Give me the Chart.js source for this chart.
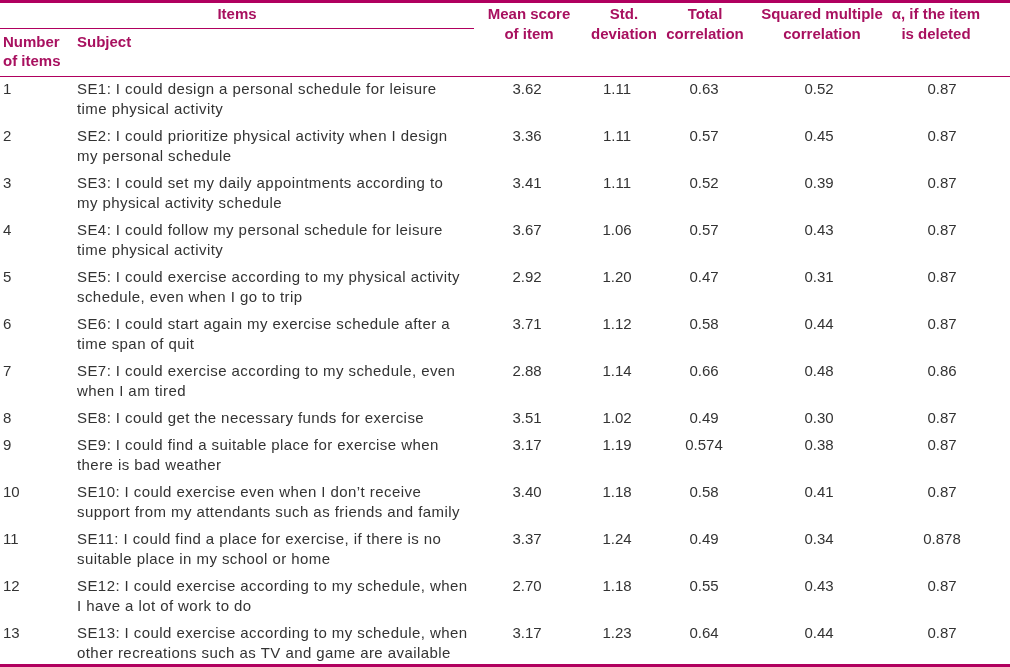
<!doctype html>
<html lang="en">
  <head>
    <meta charset="utf-8">
    <title>Self-efficacy items</title>
    <style>
      body { margin: 0; background: #fff; }
    </style>
  </head>
  <body>
    <canvas id="myChart" width="1010" height="667"></canvas>

    <script src="https://cdn.jsdelivr.net/npm/chart.js"></script>
    <script>
        const itemNumbers = ['1', '2', '3', '4', '5', '6', '7', '8', '9', '10', '11', '12', '13'];
        const subjects = [
            ['SE1: I could design a personal schedule for leisure', 'time physical activity'],
            ['SE2: I could prioritize physical activity when I design', 'my personal schedule'],
            ['SE3: I could set my daily appointments according to', 'my physical activity schedule'],
            ['SE4: I could follow my personal schedule for leisure', 'time physical activity'],
            ['SE5: I could exercise according to my physical activity', 'schedule, even when I go to trip'],
            ['SE6: I could start again my exercise schedule after a', 'time span of quit'],
            ['SE7: I could exercise according to my schedule, even', 'when I am tired'],
            ['SE8: I could get the necessary funds for exercise'],
            ['SE9: I could find a suitable place for exercise when', 'there is bad weather'],
            ['SE10: I could exercise even when I don\u2019t receive', 'support from my attendants such as friends and family'],
            ['SE11: I could find a place for exercise, if there is no', 'suitable place in my school or home'],
            ['SE12: I could exercise according to my schedule, when', 'I have a lot of work to do'],
            ['SE13: I could exercise according to my schedule, when', 'other recreations such as TV and game are available']
        ];
        const meanScore = ['3.62', '3.36', '3.41', '3.67', '2.92', '3.71', '2.88', '3.51', '3.17', '3.40', '3.37', '2.70', '3.17'];
        const stdDeviation = ['1.11', '1.11', '1.11', '1.06', '1.20', '1.12', '1.14', '1.02', '1.19', '1.18', '1.24', '1.18', '1.23'];
        const totalCorrelation = ['0.63', '0.57', '0.52', '0.57', '0.47', '0.58', '0.66', '0.49', '0.574', '0.58', '0.49', '0.55', '0.64'];
        const squaredMultiple = ['0.52', '0.45', '0.39', '0.43', '0.31', '0.44', '0.48', '0.30', '0.38', '0.41', '0.34', '0.43', '0.44'];
        const alphaIfDeleted = ['0.87', '0.87', '0.87', '0.87', '0.87', '0.87', '0.86', '0.87', '0.87', '0.87', '0.878', '0.87', '0.87'];
    </script>

    <script>
        const accent = '#b0005f';
        const headColor = '#a8105f';
        const textColor = '#333333';
        const font = '15px "Liberation Sans", Arial, sans-serif';
        const boldFont = 'bold 15px "Liberation Sans", Arial, sans-serif';

        // row centres: first line of row 1 at 90, 20px line height, 7px row gap
        const rowY = [];
        let y = 90;
        subjects.forEach((lines) => {
            rowY.push(y);
            y += lines.length * 20 + 7;
        });

        const numericColumns = [
            { key: 'mean', values: meanScore, x: 527, head: ['Mean score', 'of item'], hx: 529 },
            { key: 'std', values: stdDeviation, x: 617, head: ['Std.', 'deviation'], hx: 624 },
            { key: 'total', values: totalCorrelation, x: 704, head: ['Total', 'correlation'], hx: 705 },
            { key: 'smc', values: squaredMultiple, x: 819, head: ['Squared multiple', 'correlation'], hx: 822 },
            { key: 'alpha', values: alphaIfDeleted, x: 942, head: ['\u03b1, if the item', 'is deleted'], hx: 936 }
        ];

        const tablePlugin = {
            id: 'tablePlugin',
            afterDatasetsDraw(chart) {
                const { ctx, scales: { x, y } } = chart;
                const px = (v) => x.getPixelForValue(v);
                const py = (v) => y.getPixelForValue(v);
                const left = px(0), right = px(1010);

                ctx.save();
                // rules
                ctx.strokeStyle = accent;
                ctx.lineWidth = 3;
                ctx.beginPath(); ctx.moveTo(left, py(1.5)); ctx.lineTo(right, py(1.5)); ctx.stroke();
                ctx.beginPath(); ctx.moveTo(left, py(665.5)); ctx.lineTo(right, py(665.5)); ctx.stroke();
                ctx.lineWidth = 1.2;
                ctx.beginPath(); ctx.moveTo(left, py(28.5)); ctx.lineTo(px(474), py(28.5)); ctx.stroke();
                ctx.beginPath(); ctx.moveTo(left, py(76.5)); ctx.lineTo(right, py(76.5)); ctx.stroke();

                // header
                ctx.fillStyle = headColor;
                ctx.font = boldFont;
                ctx.textBaseline = 'middle';
                ctx.textAlign = 'center';
                ctx.fillText('Items', px(237), py(15));
                numericColumns.forEach((col) => {
                    ctx.fillText(col.head[0], px(col.hx), py(15));
                    ctx.fillText(col.head[1], px(col.hx), py(34.5));
                });
                ctx.textAlign = 'left';
                ctx.fillText('Number', px(3), py(43));
                ctx.fillText('of items', px(3), py(62));
                ctx.fillText('Subject', px(77), py(43));

                // body text columns
                ctx.fillStyle = textColor;
                ctx.font = font;
                itemNumbers.forEach((n, i) => {
                    ctx.fillText(n, px(3), py(rowY[i]));
                });
                ctx.letterSpacing = '0.43px';
                itemNumbers.forEach((n, i) => {
                    subjects[i].forEach((line, j) => {
                        ctx.fillText(line, px(77), py(rowY[i] + j * 20));
                    });
                });
                ctx.letterSpacing = '0px';

                // numeric cells, placed by the dataset points
                ctx.textAlign = 'center';
                chart.data.datasets.forEach((ds, d) => {
                    const meta = chart.getDatasetMeta(d);
                    meta.data.forEach((pt, i) => {
                        ctx.fillText(ds.data[i].label, pt.x, pt.y);
                    });
                });
                ctx.restore();
            }
        };

        const data = {
            datasets: numericColumns.map((col) => ({
                label: col.key,
                data: col.values.map((v, i) => ({ x: col.x, y: rowY[i], label: v })),
                pointRadius: 0,
                pointHoverRadius: 0
            }))
        };

        const config = {
            type: 'scatter',
            data,
            options: {
                responsive: false,
                animation: false,
                events: [],
                layout: { padding: 0 },
                plugins: {
                    legend: { display: false },
                    tooltip: { enabled: false }
                },
                scales: {
                    x: { type: 'linear', min: 0, max: 1010, display: false },
                    y: { type: 'linear', min: 0, max: 667, reverse: true, display: false }
                }
            },
            plugins: [tablePlugin]
        };

        new Chart(document.getElementById('myChart'), config);
    </script>
  </body>
</html>
